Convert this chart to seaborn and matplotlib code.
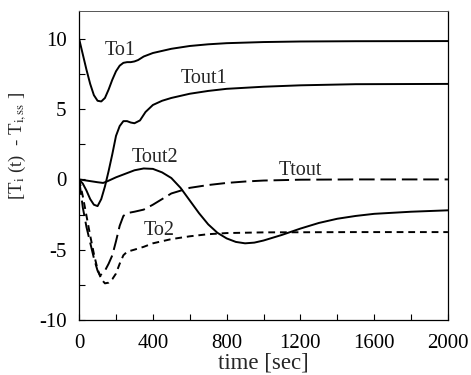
import numpy as np
import pandas as pd
import matplotlib
matplotlib.use("Agg")
import matplotlib.pyplot as plt
import seaborn as sns

# ---- data ----
t_to1 = [0, 20, 40, 60, 80, 100, 120, 140, 160, 180, 200, 220, 240, 260, 280, 300, 320, 350, 400, 450, 500, 600, 700, 800, 1000, 1200, 1500, 2000]
y_to1 = [10, 8.9, 7.8, 6.8, 6.0, 5.6, 5.55, 5.8, 6.4, 7.1, 7.7, 8.1, 8.3, 8.35, 8.35, 8.4, 8.5, 8.75, 9.0, 9.15, 9.3, 9.5, 9.62, 9.7, 9.78, 9.82, 9.84, 9.85]

t_tout1 = [0, 20, 40, 60, 80, 100, 120, 140, 160, 180, 200, 220, 240, 260, 280, 300, 330, 360, 400, 450, 500, 600, 700, 800, 1000, 1200, 1500, 2000]
y_tout1 = [0, -0.3, -0.8, -1.4, -1.8, -1.9, -1.4, -0.5, 0.6, 1.8, 3.1, 3.8, 4.15, 4.15, 4.05, 4.0, 4.2, 4.8, 5.3, 5.6, 5.8, 6.1, 6.3, 6.45, 6.6, 6.7, 6.78, 6.8]

t_tout2 = [0, 50, 100, 130, 150, 200, 250, 300, 350, 400, 450, 500, 550, 600, 650, 700, 750, 800, 850, 900, 950, 1000, 1100, 1200, 1300, 1400, 1500, 1600, 1800, 2000]
y_tout2 = [0, -0.1, -0.2, -0.25, -0.15, 0.15, 0.4, 0.65, 0.78, 0.75, 0.5, 0.1, -0.6, -1.5, -2.4, -3.2, -3.8, -4.2, -4.45, -4.55, -4.5, -4.35, -3.95, -3.5, -3.1, -2.8, -2.6, -2.45, -2.3, -2.2]

t_ttout = [0, 20, 40, 60, 80, 100, 114, 140, 160, 180, 200, 220, 240, 260, 300, 350, 400, 450, 500, 550, 600, 700, 800, 900, 1000, 1200, 1500, 2000]
y_ttout = [0, -2.0, -3.4, -4.5, -5.6, -6.5, -6.85, -6.5, -6.0, -5.4, -4.4, -3.3, -2.6, -2.4, -2.3, -2.15, -1.8, -1.4, -1.0, -0.8, -0.6, -0.4, -0.25, -0.15, -0.08, -0.02, 0, 0]

t_to2 = [0, 20, 40, 60, 80, 100, 120, 140, 160, 180, 200, 220, 240, 260, 300, 350, 400, 500, 600, 700, 800, 1000, 1500, 2000]
y_to2 = [0, -1.2, -2.6, -4.0, -5.3, -6.4, -7.1, -7.4, -7.35, -7.1, -6.7, -6.0, -5.4, -5.15, -5.0, -4.8, -4.55, -4.25, -4.05, -3.9, -3.82, -3.77, -3.75, -3.75]

labels = ["To1", "Tout1", "Tout2", "Ttout", "To2"]
x_ticks = [0, 400, 800, 1200, 1600, 2000]
y_ticks = [-10, -5, 0, 5, 10]

sns.set_theme(style="white")
plt.rcParams['font.family'] = ['Liberation Serif', 'DejaVu Serif']
plt.rcParams['mathtext.fontset'] = 'stix'
plt.rcParams['axes.unicode_minus'] = False

fig = plt.figure(figsize=(4.71, 3.75), dpi=100)
ax = fig.add_axes([0.168, 0.147, 0.783, 0.824])

lw = 1.4
sns.lineplot(x=t_to1, y=y_to1, ax=ax, color="black", lw=lw)
sns.lineplot(x=t_tout1, y=y_tout1, ax=ax, color="black", lw=lw)
sns.lineplot(x=t_tout2, y=y_tout2, ax=ax, color="black", lw=lw)
sns.lineplot(x=t_ttout, y=y_ttout, ax=ax, color="black", lw=lw)
ax.lines[-1].set_dashes([8, 3])
sns.lineplot(x=t_to2, y=y_to2, ax=ax, color="black", lw=lw)
ax.lines[-1].set_dashes([3.5, 2.5])

ax.set_xlim(0, 2000)
ax.set_ylim(-10, 12)
ax.set_xticks(x_ticks)
ax.set_xticks([200, 600, 1000, 1400, 1800], minor=True)
ax.set_yticks(y_ticks)
ax.set_yticks([-7.5, -2.5, 2.5, 7.5], minor=True)
ax.tick_params(which="both", direction="in", length=4, width=0.8, colors="black",
               labelsize=15, bottom=True, left=True)
ax.tick_params(axis="x", pad=10)
ax.tick_params(axis="y", pad=9)
for s in ax.spines.values():
    s.set_color("black")
    s.set_linewidth(0.9)
ax.spines["top"].set_color("#555555")
ax.spines["top"].set_linewidth(0.7)

ax.set_xlabel("time [sec]", fontsize=16.5)
ax.xaxis.set_label_coords(0.5, -0.105)
ax.xaxis.label.set_va("top")
ax.set_ylabel(r"[T$_{\rm i}$ (t)  - T$_{\rm i,ss}$ ]", fontsize=13.5)
ax.yaxis.set_label_coords(-0.135, 0.563)

fs = 14.5
ax.text(222, 9.2, labels[0], fontsize=fs, ha="center", va="center")
ax.text(678, 7.2, labels[1], fontsize=fs, ha="center", va="center")
ax.text(412, 1.55, labels[2], fontsize=fs, ha="center", va="center")
ax.text(1198, 0.64, labels[3], fontsize=fs, ha="center", va="center")
ax.text(434, -3.63, labels[4], fontsize=fs, ha="center", va="center")

fig.savefig("out.png", dpi=100)
